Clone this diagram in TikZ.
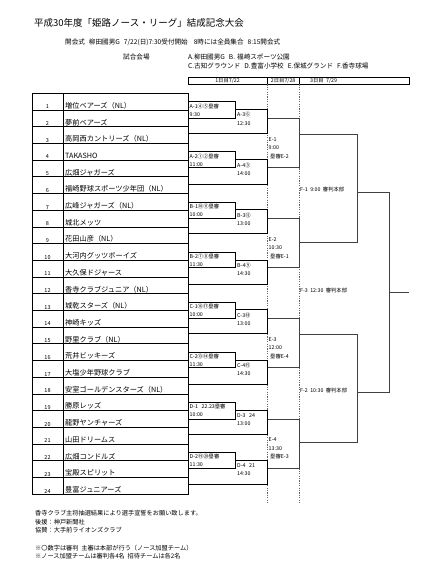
\documentclass[tikz,border=0pt]{standalone}
\usepackage{fontspec}
\setmainfont{Noto Sans CJK JP}
\begin{document}
\begin{tikzpicture}[x=1pt,y=-1pt,
  lbl/.style={inner sep=0pt, anchor=west, font=\fontsize{5.3}{6}\selectfont},
  small/.style={inner sep=0pt, anchor=west, font=\fontsize{6.2}{7}\selectfont},
  head/.style={inner sep=0pt, anchor=west, font=\fontsize{6.6}{7.5}\selectfont},
  team/.style={inner sep=0pt, anchor=west, font=\fontsize{7.2}{8}\selectfont},
  num/.style={inner sep=0pt, font=\fontsize{5.5}{6}\selectfont},
  box/.style={draw=black, line width=0.8pt},
  rbox/.style={draw=black!75, line width=0.8pt},
  divider/.style={draw=black!60, dashed, line width=0.4pt, dash pattern=on 1.2pt off 1.2pt}]
\useasboundingbox[fill=white] (0,0) rectangle (441,568);
% title and header texts
\node[inner sep=0pt, anchor=west, font=\fontsize{9.5}{11}\selectfont] (title) at (34,23) {平成30年度「姫路ノース・リーグ」結成記念大会};
\node[head] (open) at (65,42) {開会式\hspace{4pt}柳田國男G\hspace{4pt}7/22(日)7:30受付開始\hspace{6pt}8時には全員集合\hspace{4pt}8:15開会式};
\node[head] (venue) at (123,57) {試合会場};
\node[head] (va) at (188,57) {A.柳田國男G\hspace{4pt}B.\hspace{2pt}福崎スポーツ公園};
\node[head] (vb) at (188,65.5) {C.古知グラウンド\hspace{4pt}D.豊富小学校\hspace{4pt}E.保城グランド\hspace{4pt}F.香寺球場};
% day header
\draw[line width=0.8pt] (188,77) rectangle (409,84.3);
\draw[line width=0.8pt] (267.5,77) -- (267.5,84.3) (299,77) -- (299,84.3);
\node[lbl, anchor=center] (d1) at (227.5,80.8) {1日目7/22};
\node[lbl, anchor=center] (d2) at (283.2,80.8) {2日目7/28};
\node[lbl] (d3) at (310,80.8) {3日目\ \ 7/29};
\draw[divider] (267.5,84.3) -- (267.5,502);
\draw[divider] (299,84.3) -- (299,502);
% team table
\draw[line width=0.9pt] (32,93.3) rectangle (188,494.1);
\draw[line width=0.9pt] (63,93.3) -- (63,494.1);
\foreach \i in {1,...,23} \draw[line width=0.8pt] (32,{93.3+16.7*\i}) -- (188,{93.3+16.7*\i});
\foreach \i/\n in {1/増位ベアーズ（NL）,2/夢前ベアーズ,3/高岡西カントリーズ（NL）,4/TAKASHO,5/広畑ジャガーズ,6/福崎野球スポーツ少年団（NL）,7/広峰ジャガーズ（NL）,8/城北メッツ,9/花田山彦（NL）,10/大河内グッツボーイズ,11/大久保ドジャース,12/香寺クラブジュニア（NL）,13/城乾スターズ（NL）,14/神崎キッズ,15/野里クラブ（NL）,16/荒井ビッキーズ,17/大塩少年野球クラブ,18/安室ゴールデンスターズ（NL）,19/勝原レッズ,20/龍野ヤンチャーズ,21/山田ドリームス,22/広畑コンドルズ,23/宝殿スピリット,24/豊富ジュニアーズ} {
  \node[num] (n\i) at (47.5,{93.3+16.7*(\i-1)+13.6}) {\i};
  \node[team] (t\i) at (65,{93.3+16.7*(\i-1)+12.3}) {\n};
}
% bracket blocks
\foreach \k/\la/\ta/\lc/\tc/\lb/\tb/\ld/\td/\en/\et/\eu in {
 0/A-1④⑤塁審/9:30/A-3⑥/12:30/A-2①②塁審/11:00/A-4③/14:00/E-1/9:00/塁審E-2,
 1/B-1⑩⑪塁審/10:00/B-3⑫/13:00/B-2⑦⑧塁審/11:30/B-4⑨/14:30/E-2/10:30/塁審E-1,
 2/C-1⑯⑰塁審/10:00/C-3⑱/13:00/C-2⑬⑭塁審/11:30/C-4⑮/14:30/E-3/12:00/塁審E-4,
 3/D-1\ \ \ 22.23塁審/10:00/D-3\ \ \ 24/13:00/D-2⑲⑳塁審/11:30/D-4\ \ \ 21/14:30/E-4/13:30/塁審E-3} {
  \pgfmathsetmacro\o{100.2*\k}
  \draw[box] (188,{101.7+\o}) -| (235.7,{118.3+\o}) -- (188,{118.3+\o});
  \draw[box] (235.7,{109.3+\o}) -| (267.5,{133.3+\o}) -- (188,{133.3+\o});
  \draw[box] (188,{151.7+\o}) -| (235.7,{167.3+\o}) -- (188,{167.3+\o});
  \draw[box] (235.7,{159.7+\o}) -| (267.5,{184+\o}) -- (188,{184+\o});
  \draw[rbox] (267.5,{118.3+\o}) -| (299,{167.3+\o}) -- (267.5,{167.3+\o});
  \node[lbl] (a\k) at (189.5,{106+\o}) {\la};
  \node[lbl] (at\k) at (189.5,{114.2+\o}) {\ta};
  \node[lbl] (c\k) at (237,{114.8+\o}) {\lc};
  \node[lbl] (ct\k) at (237,{123.2+\o}) {\tc};
  \node[lbl] (b\k) at (189.5,{156+\o}) {\lb};
  \node[lbl] (bt\k) at (189.5,{164.2+\o}) {\tb};
  \node[lbl] (d\k) at (237,{165.2+\o}) {\ld};
  \node[lbl] (dt\k) at (237,{173.4+\o}) {\td};
  \node[lbl] (e\k) at (268.5,{139.3+\o}) {\en};
  \node[lbl] (et\k) at (268.5,{147.6+\o}) {\et};
  \node[lbl] (eu\k) at (270,{156+\o}) {\eu};
}
% third day
\draw[rbox] (299,134.3) -| (357.3,242.3) -- (299,242.3);
\draw[rbox] (299,334.7) -| (357.3,442.7) -- (299,442.7);
\draw[rbox] (357.3,192.3) -| (389.3,392.7) -- (357.3,392.7);
\draw[rbox] (389.3,292.7) -- (409,292.7);
\node[lbl] (f1) at (300,189) {F-1\ \ 9:00\ \ 審判本部};
\node[lbl] (f3) at (300,290) {F-3\ \ 12:30\ \ 審判本部};
\node[lbl] (f2) at (300,390) {F-2\ \ 10:30\ \ 審判本部};
% footer
\node[small] (ft1) at (35,513.3) {香寺クラブ主将抽選結果により選手宣誓をお願い致します。};
\node[small] (ft2) at (35,521.8) {後援：神戸新聞社};
\node[small] (ft3) at (35,530.2) {協賛：大手前ライオンズクラブ};
\node[small] (ft4) at (35,547.7) {※〇数字は審判\ \ 主審は本部が行う（ノース加盟チーム）};
\node[small] (ft5) at (35,556.4) {※ノース加盟チームは審判各4名\ \ 招待チームは各2名};
\end{tikzpicture}
\end{document}
